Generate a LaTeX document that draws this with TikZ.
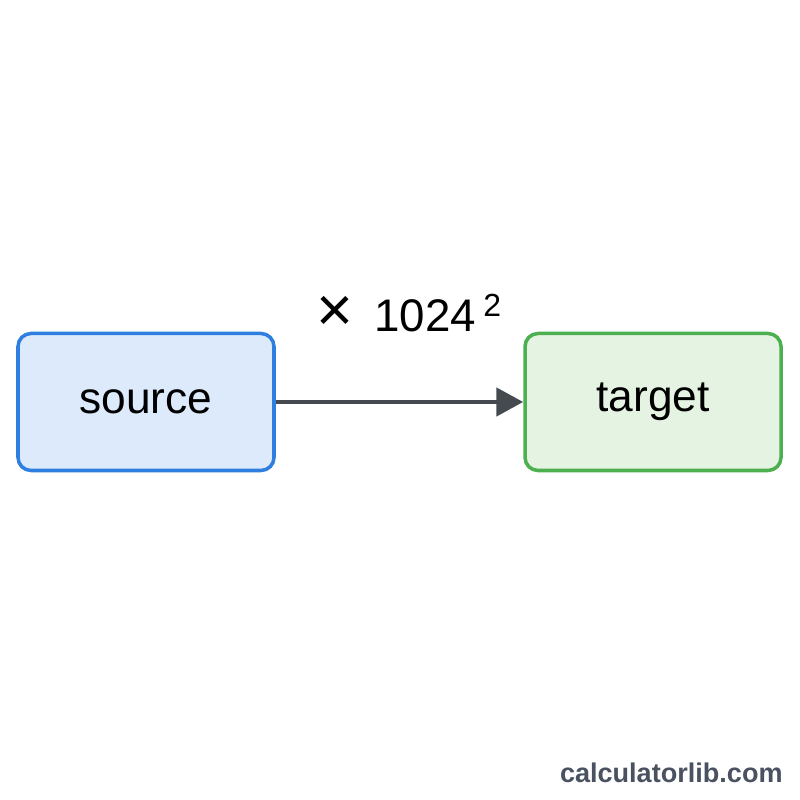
\documentclass[tikz,border=0pt]{standalone}
\usepackage{fontspec}
\setmainfont{Liberation Sans}
\usetikzlibrary{arrows.meta}
\definecolor{srcline}{HTML}{2F7FE0}
\definecolor{srcfill}{HTML}{DDEAFB}
\definecolor{tgtline}{HTML}{4CAF50}
\definecolor{tgtfill}{HTML}{E5F3E2}
\definecolor{arrowgray}{HTML}{454A51}
\definecolor{markgray}{HTML}{4A5261}
\begin{document}
\begin{tikzpicture}[
    box/.style={rounded corners=0.13cm, line width=1pt, minimum width=2.56cm, minimum height=1.37cm, font=\fontsize{12.6}{15}\selectfont},
    link/.style={line width=1.4pt, arrowgray, -{Triangle[length=0.27cm, width=0.28cm]}}]
    \useasboundingbox (0,0) rectangle (8,8);
    \fill[white] (0,0) rectangle (8,8);

    % 两个方框
    \node[box, draw=srcline, fill=srcfill] (source) at (1.46,3.98) {source};
    \node[box, draw=tgtline, fill=tgtfill] (target) at (6.53,3.98) {target};

    % 箭头与系数
    \draw[link] (source.east) -- (target.west);
    \node[font=\fontsize{13}{17}\selectfont] (factor) at (4.1,4.87) {{\fontsize{18}{18}\selectfont ×}\, 1024\,\textsuperscript{2}};

    % 水印
    \node[anchor=east, text=markgray, font=\bfseries\fontsize{7.7}{9}\selectfont] (mark) at (7.95,0.27) {calculatorlib.com};
\end{tikzpicture}
\end{document}
